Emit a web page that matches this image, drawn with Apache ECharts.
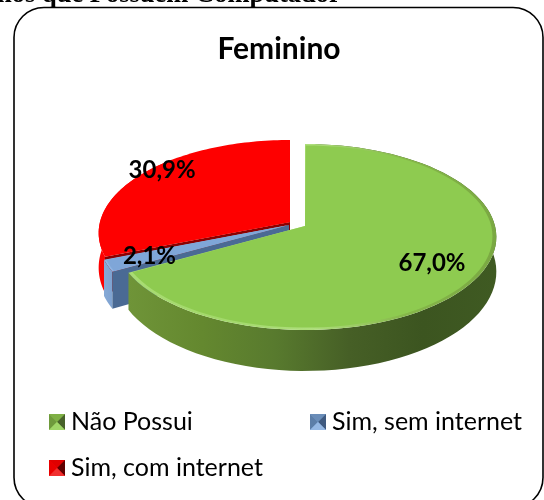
<!DOCTYPE html>
<html><head><meta charset="utf-8">
<style>html,body{margin:0;padding:0;background:#fff}#c{width:544px;height:500px}</style>
<script src="https://cdn.jsdelivr.net/npm/echarts@6/dist/echarts.min.js"></script>
</head><body><div id="c"></div>
<script>
const chartTitle = 'Feminino';
const sliceNames = ['Não Possui', 'Sim, sem internet', 'Sim, com internet'];
const sliceValues = [67.0, 2.1, 30.9];

// 3D-look projection settings
const look = { rx: 190, ry: 91.7, k: 0.118, depth: 34, kd: 0.17 };
const apex = [[305, 226], [289, 225], [290, 222]];
const labelPlace = [[0.73, 0.75], [0.77, 0.77], [0.87, 1.07]];
const colors = ['#8ecb50', '#7fa6d8', '#fe0000'];
const rim = [
  ['#a9dc73', '#a2d86a', '#aede7c', '#86b84a', '#7aa842'],
  ['#8fb4e2', '#8fb4e2'], ['#fe0000', '#fe0000']
];
const wall = [
  ['#6f9438', '#64882f', '#587a2e', '#465f26', '#3c5520', '#3f5a22'],
  ['#86a9d6', '#7ea2d0'], ['#fe0000', '#f40000']
];
const cutFace = [null, '#4a6a94', '#8c0000'];

const total = sliceValues.reduce((a, b) => a + b, 0);
const spans = [];
sliceValues.reduce((acc, v, i) => {
  const next = acc + v / total * 2 * Math.PI;
  spans[i] = [acc, next];
  return next;
}, 0);

function proj(i, th, r, withDepth) {
  const u = Math.sin(th) * r, v = -Math.cos(th) * r;
  const den = 1 - look.k * v;
  const x = apex[i][0] + u * look.rx / den;
  let y = apex[i][1] + v * look.ry / den;
  if (withDepth) y += look.depth / (1 - look.kd * v);
  return [x, y];
}
function arc(i, a, b, r, d) {
  const n = 80, pts = [];
  for (let s = 0; s <= n; s++) pts.push(proj(i, a + (b - a) * s / n, r, d));
  return pts;
}
function hGrad(list) {
  return new echarts.graphic.LinearGradient(0, 0, 1, 0,
    list.map((c, j) => ({ offset: j / (list.length - 1), color: c })));
}
function renderSlice(i) {
  return function () {
    const [a, b] = spans[i];
    const children = [];
    const wb = i === 2 ? Math.min(b, a + 1.2) : b;
    children.push({ type: 'polygon', shape: { points: arc(i, a, wb, 1, false).concat(arc(i, a, wb, 1, true).reverse()) },
      style: { fill: hGrad(wall[i]) } });
    if (cutFace[i]) {
      const o = proj(i, a, 1, false), od = proj(i, a, 1, true), c = proj(i, a, 0, false), cd = proj(i, a, 0, true);
      children.push({ type: 'polygon', shape: { points: [c, o, od, cd] }, style: { fill: cutFace[i] } });
    }
    const c0 = proj(i, a, 0, false);
    children.push({ type: 'polygon', shape: { points: [c0].concat(arc(i, a, b, 1, false)) }, style: { fill: hGrad(rim[i]) } });
    children.push({ type: 'polygon', shape: { points: [c0].concat(arc(i, a + 0.004, b - 0.004, i === 0 ? 0.98 : 0.99, false)) }, style: { fill: colors[i] } });
    return { type: 'group', children };
  };
}
function renderLabel(params, api) {
  const i = params.dataIndex, value = api.value(0);
  const [a, b] = spans[i];
  const mid = (a + b) / 2, lp = labelPlace[i];
  const u = Math.sin(mid), v = -Math.cos(mid), den = 1 - look.k * v;
  return { type: 'text', style: {
    x: apex[i][0] + u * look.rx / den * lp[0], y: apex[i][1] + v * look.ry / den * lp[1],
    text: value.toFixed(1).replace('.', ',') + '%', fill: '#000',
    font: 'bold 24px Lato', textAlign: 'center', textVerticalAlign: 'middle' } };
}
const drawOrder = [2, 1, 0];
const series = drawOrder.map((i, n) => ({
  type: 'custom', name: sliceNames[i], coordinateSystem: 'none', z: 2 + n,
  itemStyle: { color: colors[i] }, silent: true,
  data: [[sliceValues[i]]], renderItem: renderSlice(i)
}));
series.push({ type: 'custom', name: 'rotulos', coordinateSystem: 'none', z: 10, silent: true,
  data: sliceValues.map(v => [v]), renderItem: renderLabel });

const legendPlaces = [[49, 414], [310, 414], [49, 460]];
const bevel = [
  { t: '#7fb045', l: '#6f9a3c', r: '#48622a', b: '#a0d668' },
  { t: '#6a8db8', l: '#5c7ea8', r: '#3f5a80', b: '#95b8e4' },
  { t: '#e00000', l: '#e80000', r: '#600000', b: '#f03030' }
];
function legendBevel(i) {
  const [x, y] = legendPlaces[i], s = 16, p = bevel[i];
  const mk = (pts, c) => ({ type: 'polygon', z: 20, shape: { points: pts }, style: { fill: c } });
  const c = [x + s / 2, y + s / 2];
  return [
    mk([[x, y], [x + s, y], c], p.t), mk([[x, y], [x, y + s], c], p.l),
    mk([[x + s, y], [x + s, y + s], c], p.r), mk([[x, y + s], [x + s, y + s], c], p.b)
  ];
}
const chart = echarts.init(document.getElementById('c'), null, { renderer: 'canvas' });
chart.setOption({
  animation: false,
  backgroundColor: '#fff',
  title: { text: chartTitle, left: 274, top: 29, textAlign: 'center',
    textStyle: { fontFamily: 'Lato', fontWeight: 'bold', fontSize: 30, color: '#000' } },
  legend: sliceNames.map((n, i) => ({
    data: [n], left: legendPlaces[i][0], top: legendPlaces[i][1] + 8 - 12.5, orient: 'horizontal',
    itemWidth: 16, itemHeight: 16, itemGap: 0, icon: 'rect', selectedMode: false,
    padding: 0, textStyle: { fontFamily: 'Lato', fontSize: 25, color: '#000', padding: [0, 0, 0, 1] }
  })),
  graphic: [
    { type: 'text', z: 0, style: { x: -3, y: -18, text: 'nos que Possuem Computador', fill: '#000',
        font: 'bold 26.5px "Liberation Serif"' } },
    { type: 'rect', z: 1, shape: { x: 14, y: 7.5, width: 529, height: 500, r: 30 },
      style: { fill: '#fff', stroke: '#000', lineWidth: 1.6 } }
  ].concat(legendBevel(0), legendBevel(1), legendBevel(2)),
  series
});
</script></body></html>
